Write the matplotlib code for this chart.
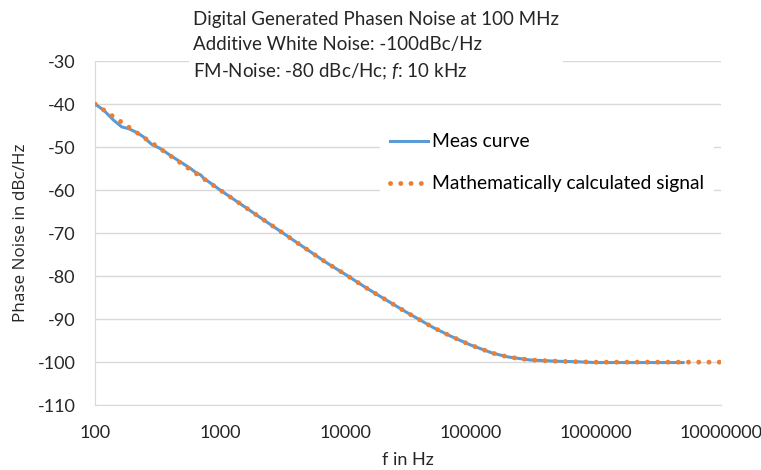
# Phasenrauschen: gemessene Kurve vs. berechnetes Signal

import matplotlib.pyplot as plt
from matplotlib.ticker import FixedLocator, FixedFormatter

# Messkurve
f_meas = [100, 117, 140, 163, 185, 215, 243, 284, 331, 398, 478, 575, 630, 700,
          740, 860, 1000, 1500, 2000, 3000, 5000, 7000, 10000, 15000, 20000,
          30000, 50000, 70000, 100000, 150000, 200000, 300000, 500000, 700000,
          1000000, 2000000, 5000000]
pn_meas = [-40, -41.4, -43.7, -45.3, -45.7, -46.6, -47.6, -49.4, -50.3, -51.9,
           -53.4, -54.9, -55.8, -56.5, -57.3, -58.6, -60, -63.5, -66, -69.5,
           -73.9, -76.8, -79.6, -82.9, -85.1, -88.2, -91.9, -94.0, -96.0, -97.9,
           -98.8, -99.5, -99.8, -99.9, -100.1, -100.1, -100.1]

# berechnetes Signal
f_calc = [100, 150, 200, 300, 500, 700, 1000, 1500, 2000, 3000, 5000, 7000,
          10000, 15000, 20000, 30000, 40000, 50000, 70000, 100000, 150000,
          200000, 300000, 500000, 700000, 1000000, 2000000, 5000000, 10000000]
pn_calc = [-40, -43.5, -46, -49.5, -54, -56.9, -60, -63.5, -66, -69.5, -73.9,
           -76.8, -79.6, -82.9, -85.1, -88.2, -90.3, -91.9, -94.0, -96.0, -97.9,
           -98.8, -99.5, -99.8, -99.9, -100, -100, -100, -100]

x_ticks = [100, 1000, 10000, 100000, 1000000, 10000000]
x_labels = ['100', '1000', '10000', '100000', '1000000', '10000000']
y_ticks = list(range(-110, -29, 10))

title_lines = ['Digital Generated Phasen Noise at 100 MHz',
               'Additive White Noise: -100dBc/Hz',
               'FM-Noise: -80 dBc/Hc; $\\mathit{f}$: 10 kHz']

plt.rcParams['font.family'] = ['Lato', 'DejaVu Sans']
plt.rcParams['mathtext.fontset'] = 'custom'
plt.rcParams['mathtext.it'] = 'Lato:italic'
plt.rcParams['axes.unicode_minus'] = False

fig = plt.figure(figsize=(7.61, 4.70), dpi=100)
ax = fig.add_axes([0.125, 0.138, 0.822, 0.732])

ax.plot(f_meas, pn_meas, color='#5B9BD5', lw=2.2, label='Meas curve', zorder=3)
ax.plot(f_calc, pn_calc, color='#ED7D31', lw=3.5, linestyle=(0, (0.01, 2.1)),
        dash_capstyle='round', label='Mathematically calculated signal', zorder=4)

ax.set_xscale('log')
ax.set_xlim(100, 10000000)
ax.set_ylim(-110, -30)
ax.xaxis.set_major_locator(FixedLocator(x_ticks))
ax.xaxis.set_major_formatter(FixedFormatter(x_labels))
ax.xaxis.set_minor_locator(FixedLocator([]))
ax.set_yticks(y_ticks)
ax.tick_params(length=0, labelsize=13, colors='#262626')
ax.tick_params(axis='y', pad=14)
ax.tick_params(axis='x', pad=14)

ax.grid(axis='y', color='#d9d9d9', lw=1)
ax.set_axisbelow(True)
for s in ['top', 'right']:
    ax.spines[s].set_visible(False)
for s in ['left', 'bottom']:
    ax.spines[s].set_color('#d9d9d9')

ax.set_xlabel('f in Hz', fontsize=13, color='#262626', labelpad=8)
ax.set_ylabel('Phase Noise in dBc/Hz', fontsize=12.3, color='#262626',
              family=['Open Sans', 'DejaVu Sans'], labelpad=6)

fig.text(0.254, 0.976, '\n'.join(title_lines), fontsize=13.5, color='#262626',
         ha='left', va='top', linespacing=1.57,
         bbox=dict(facecolor='white', edgecolor='none', pad=3))

leg = ax.legend(loc='upper left', bbox_to_anchor=(0.44, 0.846), frameon=True,
                fontsize=13.9, handlelength=2.0, handletextpad=0.2,
                labelspacing=1.3, borderpad=0.5)
leg.get_frame().set_facecolor('white')
leg.get_frame().set_edgecolor('none')
leg.get_frame().set_alpha(1)

fig.savefig('out.png', dpi=100)
